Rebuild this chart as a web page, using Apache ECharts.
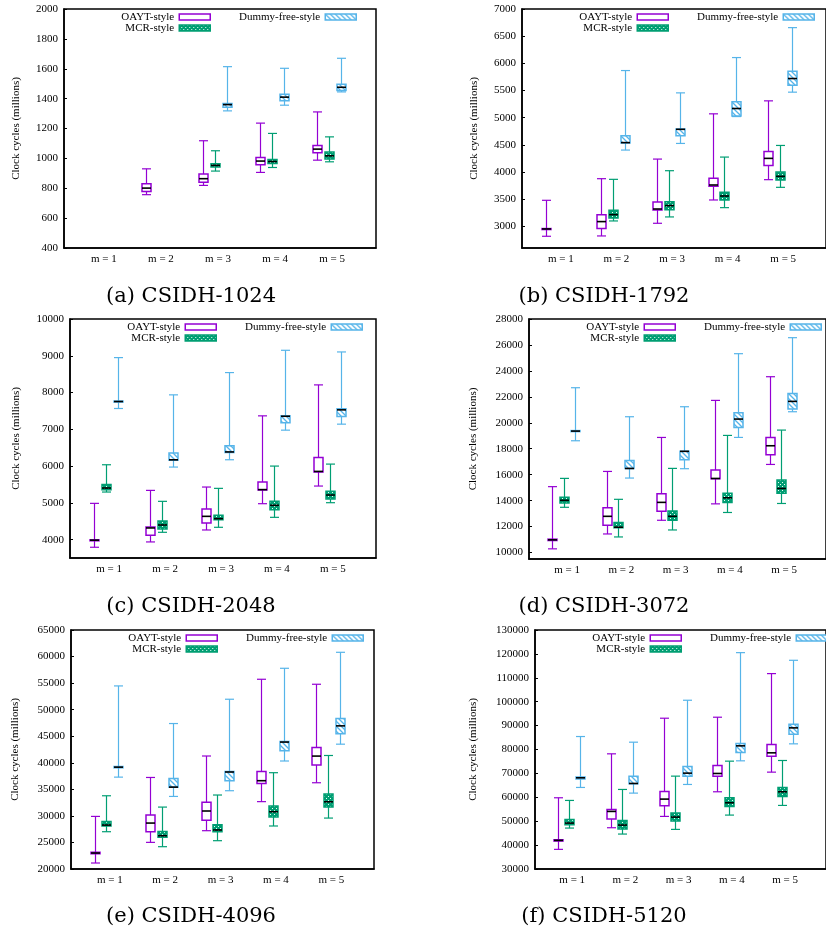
<!DOCTYPE html>
<html>
<head>
<meta charset="utf-8">
<script src="https://cdn.jsdelivr.net/npm/echarts@6/dist/echarts.min.js"></script>
<style>
  html, body { margin: 0; padding: 0; background: #fff; }
  #main { width: 826px; height: 934px; }
</style>
</head>
<body>
<div id="main"></div>
<script>
// categories and names
var mValues = [1, 2, 3, 4, 5];
var mLabels = ['m = 1', 'm = 2', 'm = 3', 'm = 4', 'm = 5'];
var seriesNames = ['OAYT-style', 'MCR-style', 'Dummy-free-style'];
var panelTitles = ['(a) CSIDH-1024', '(b) CSIDH-1792', '(c) CSIDH-2048', '(d) CSIDH-3072', '(e) CSIDH-4096', '(f) CSIDH-5120'];
var yTitle = 'Clock cycles (millions)';

// y axis ranges / tick step per panel
var yMin = [400, 2600, 3500, 9500, 20000, 30000];
var yMax = [2000, 7000, 10000, 28000, 65000, 130000];
var yStep = [200, 500, 1000, 2000, 5000, 10000];

// box data: [min, q1, median, q3, max] per m (null = no box)
var oayt1024 = [null, [757, 779, 801, 830, 930], [819, 841, 864, 895, 1118], [906, 957, 982, 1006, 1236], [988, 1037, 1062, 1086, 1311]];
var mcr1024 = [null, null, [915, 942, 953, 964, 1051], [939, 966, 979, 993, 1167], [977, 995, 1017, 1042, 1144]];
var dummy1024 = [null, null, [1318, 1343, 1360, 1367, 1614], [1356, 1385, 1410, 1430, 1603], [1445, 1454, 1476, 1496, 1670]];

var oayt1792 = [[2816, 2945, 2951, 2958, 3478], [2822, 2957, 3086, 3214, 3876], [3055, 3300, 3318, 3447, 4237], [3484, 3735, 3760, 3882, 5070], [3858, 4121, 4250, 4378, 5309]];
var mcr1792 = [null, [3098, 3153, 3214, 3294, 3864], [3172, 3306, 3380, 3453, 4023], [3343, 3484, 3557, 3625, 4274], [3717, 3851, 3919, 3998, 4488]];
var dummy1792 = [null, [4403, 4531, 4540, 4666, 5867], [4525, 4666, 4785, 4789, 5456], [5020, 5030, 5168, 5291, 6106], [5469, 5597, 5720, 5855, 6657]];

var oayt2048 = [[3792, 3975, 3985, 3995, 4986], [3937, 4118, 4317, 4344, 5339], [4262, 4452, 4633, 4833, 5430], [4977, 5348, 5360, 5565, 7366], [5457, 5837, 5855, 6235, 8208]];
var mcr2048 = [[5294, 5357, 5403, 5502, 6036], [4199, 4290, 4398, 4507, 5041], [4335, 4543, 4570, 4661, 5394], [4606, 4814, 4932, 5041, 6000], [5004, 5104, 5213, 5312, 6054]];
var dummy2048 = [[7566, 7745, 7756, 7768, 8950], [5973, 6160, 6170, 6353, 7937], [6172, 6371, 6385, 6552, 8543], [6977, 7176, 7355, 7366, 9149], [7140, 7348, 7529, 7557, 9104]];

var oayt3072 = [[10283, 10925, 10977, 11030, 15077], [11430, 12100, 12790, 13455, 16250], [12485, 13180, 13865, 14535, 18870], [13750, 15683, 15709, 16351, 21726], [16789, 17534, 18229, 18871, 23551]];
var mcr3072 = [[13485, 13815, 14023, 14254, 15715], [11200, 11903, 11950, 12308, 14100], [11738, 12485, 12792, 13200, 16485], [13086, 13857, 14217, 14577, 19026], [13780, 14577, 14937, 15580, 19437]];
var dummy3072 = [[18614, 19320, 19360, 19400, 22703], [15740, 16470, 16480, 17100, 20466], [16460, 17154, 17800, 17815, 21237], [18871, 19643, 20286, 20774, 25326], [20851, 21057, 21649, 22266, 26560]];

var oayt4096 = [[21128, 22850, 23008, 23150, 29902], [25014, 27020, 28649, 30153, 37235], [27212, 29163, 30920, 32556, 41276], [32683, 36118, 36626, 38377, 55724], [36240, 39580, 41260, 42893, 54784]];
var mcr4096 = [[27020, 28085, 28273, 28963, 33789], [24200, 25955, 26268, 27083, 31658], [25330, 27030, 27343, 28345, 33930], [28097, 29792, 30790, 31862, 38132], [29589, 31658, 32660, 34102, 41372]];
var dummy4096 = [[37298, 39050, 39178, 39300, 54471], [33663, 35400, 35418, 37047, 47389], [34739, 36626, 38264, 38377, 51964], [40335, 42260, 43900, 44023, 57792], [43503, 45446, 46950, 48329, 60801]];

var oayt5120 = [[38214, 41700, 41974, 42250, 59802], [47268, 50889, 54093, 54928, 78188], [52003, 56460, 59246, 62449, 93091], [62310, 68856, 69970, 73313, 93509], [70527, 77213, 78606, 82088, 111754]];
var mcr5120 = [[47128, 48521, 49218, 50749, 58688], [44621, 46711, 48382, 50331, 63285], [46571, 50053, 51725, 53396, 68856], [52560, 56181, 57713, 59802, 75124], [56599, 60360, 62310, 64120, 75402]];
var dummy5120 = [[64120, 67700, 68160, 68500, 85430], [61753, 65700, 65792, 68856, 83063], [65374, 68856, 70109, 72895, 100612], [75263, 78745, 81531, 82506, 120529], [82366, 86405, 89051, 90583, 117325]];

var panelData = [
    [oayt1024, mcr1024, dummy1024],
    [oayt1792, mcr1792, dummy1792],
    [oayt2048, mcr2048, dummy2048],
    [oayt3072, mcr3072, dummy3072],
    [oayt4096, mcr4096, dummy4096],
    [oayt5120, mcr5120, dummy5120]
];

// ---- layout (pixels) ----
var grids = [
    {left: 64, top: 9, width: 312, height: 239, nameGap: 42},
    {left: 522, top: 9, width: 312, height: 239, nameGap: 42},
    {left: 70, top: 319, width: 306, height: 239, nameGap: 48},
    {left: 529, top: 319, width: 306, height: 240, nameGap: 50},
    {left: 71, top: 630, width: 303, height: 239, nameGap: 50},
    {left: 535, top: 630, width: 303, height: 239, nameGap: 56}
];
var captionPos = [[191, 297], [604, 297], [191, 607], [604, 607], [191, 917], [604, 917]];
var boxOffset = [-0.27, -0.06, 0.15];
var lineColors = ['#9400d3', '#009e73', '#56b4e9'];
var serif = 'Liberation Serif';

function dotPattern() {
    var c = document.createElement('canvas');
    c.width = 4; c.height = 4;
    var ctx = c.getContext('2d');
    ctx.fillStyle = '#009e73';
    ctx.fillRect(0, 0, 4, 4);
    ctx.fillStyle = '#e8fff6';
    ctx.fillRect(0, 0, 1, 1);
    ctx.fillRect(2, 2, 1, 1);
    return {image: c, repeat: 'repeat'};
}
function hatchPattern() {
    var c = document.createElement('canvas');
    c.width = 5; c.height = 5;
    var ctx = c.getContext('2d');
    ctx.fillStyle = '#ffffff';
    ctx.fillRect(0, 0, 5, 5);
    ctx.strokeStyle = '#56b4e9';
    ctx.lineWidth = 1.3;
    ctx.beginPath();
    ctx.moveTo(-1, -1); ctx.lineTo(6, 6);
    ctx.moveTo(-1, 4); ctx.lineTo(1, 6);
    ctx.moveTo(4, -1); ctx.lineTo(6, 1);
    ctx.stroke();
    return {image: c, repeat: 'repeat'};
}
var fills = ['#ffffff', dotPattern(), hatchPattern()];

function makeRender(k) {
    return function (params, api) {
        var x = api.value(0);
        var lo = api.coord([x, api.value(1)]);
        var q1 = api.coord([x, api.value(2)]);
        var md = api.coord([x, api.value(3)]);
        var q3 = api.coord([x, api.value(4)]);
        var hi = api.coord([x, api.value(5)]);
        var cx = Math.round(lo[0]) + 0.5;
        var hw = 4.5;
        var ws = {stroke: lineColors[k], lineWidth: 1.2};
        return {
            type: 'group',
            children: [
                {type: 'line', shape: {x1: cx, y1: hi[1], x2: cx, y2: lo[1]}, style: ws},
                {type: 'line', shape: {x1: cx - hw, y1: hi[1], x2: cx + hw, y2: hi[1]}, style: ws},
                {type: 'line', shape: {x1: cx - hw, y1: lo[1], x2: cx + hw, y2: lo[1]}, style: ws},
                {
                    type: 'rect',
                    shape: {x: cx - hw, y: q3[1], width: hw * 2, height: Math.max(q1[1] - q3[1], 1)},
                    style: {fill: fills[k], stroke: lineColors[k], lineWidth: 1.5}
                },
                {type: 'line', shape: {x1: cx - hw, y1: md[1], x2: cx + hw, y2: md[1]}, style: {stroke: '#000', lineWidth: 1.6}}
            ]
        };
    };
}

var option = {
    backgroundColor: '#fff',
    animation: false,
    grid: [], xAxis: [], yAxis: [], series: [], legend: [], graphic: []
};

grids.forEach(function (g, p) {
    option.grid.push({
        left: g.left, top: g.top, width: g.width, height: g.height,
        show: true, borderColor: '#000', borderWidth: 1.5, backgroundColor: 'transparent'
    });
    option.xAxis.push({
        type: 'value', gridIndex: p, min: 0.3, max: 5.77,
        axisLine: {lineStyle: {color: '#000', width: 1.5}},
        axisTick: {show: false},
        splitLine: {show: false},
        axisLabel: {
            customValues: mValues, margin: 6,
            color: '#000', fontFamily: serif, fontSize: 11,
            formatter: function (v) { return mLabels[mValues.indexOf(v)]; }
        }
    });
    var ticks = [];
    for (var v = Math.ceil(yMin[p] / yStep[p]) * yStep[p]; v <= yMax[p]; v += yStep[p]) ticks.push(v);
    option.yAxis.push({
        type: 'value', gridIndex: p, min: yMin[p], max: yMax[p],
        name: yTitle, nameLocation: 'middle', nameRotate: 90, nameGap: g.nameGap,
        nameTextStyle: {color: '#000', fontFamily: serif, fontSize: 11},
        axisLine: {show: true, lineStyle: {color: '#000', width: 1.5}},
        axisTick: {show: true, inside: true, length: 3, customValues: ticks, lineStyle: {color: '#000'}},
        splitLine: {show: false},
        axisLabel: {
            customValues: ticks, margin: 6, color: '#000', fontFamily: serif, fontSize: 11,
            formatter: function (val) { return String(val); }
        }
    });
    panelData[p].forEach(function (arr, k) {
        var data = [];
        arr.forEach(function (b, i) {
            if (b) data.push([mValues[i] + boxOffset[k]].concat(b));
        });
        option.series.push({
            name: seriesNames[k], type: 'custom',
            xAxisIndex: p, yAxisIndex: p,
            itemStyle: {color: fills[k], borderColor: lineColors[k], borderWidth: 1.5},
            encode: {x: 0, y: [1, 2, 3, 4, 5]},
            renderItem: makeRender(k),
            data: data
        });
    });
    var legendBase = {
        orient: 'vertical', align: 'right', icon: 'rect',
        itemWidth: 31, itemHeight: 6, itemGap: 0, padding: 0,
        selectedMode: false, top: g.top + 2.5,
        textStyle: {color: '#000', fontFamily: serif, fontSize: 11, lineHeight: 11}
    };
    option.legend.push(Object.assign({}, legendBase, {
        right: 826 - (g.left + 147),
        data: [
            {name: seriesNames[0], itemStyle: {color: fills[0], borderColor: lineColors[0], borderWidth: 1.5}},
            {name: seriesNames[1], itemStyle: {color: fills[1], borderColor: lineColors[1], borderWidth: 1.5}}
        ]
    }));
    option.legend.push(Object.assign({}, legendBase, {
        right: 826 - (g.left + 293),
        data: [
            {name: seriesNames[2], itemStyle: {color: fills[2], borderColor: lineColors[2], borderWidth: 1.5}}
        ]
    }));
    option.graphic.push({
        type: 'text', x: captionPos[p][0], y: captionPos[p][1],
        style: {
            text: panelTitles[p], fill: '#000',
            fontFamily: 'DejaVu Serif', fontSize: 21,
            align: 'center', verticalAlign: 'middle'
        }
    });
});

var myChart = echarts.init(document.getElementById('main'));
myChart.setOption(option);
</script>
</body>
</html>
